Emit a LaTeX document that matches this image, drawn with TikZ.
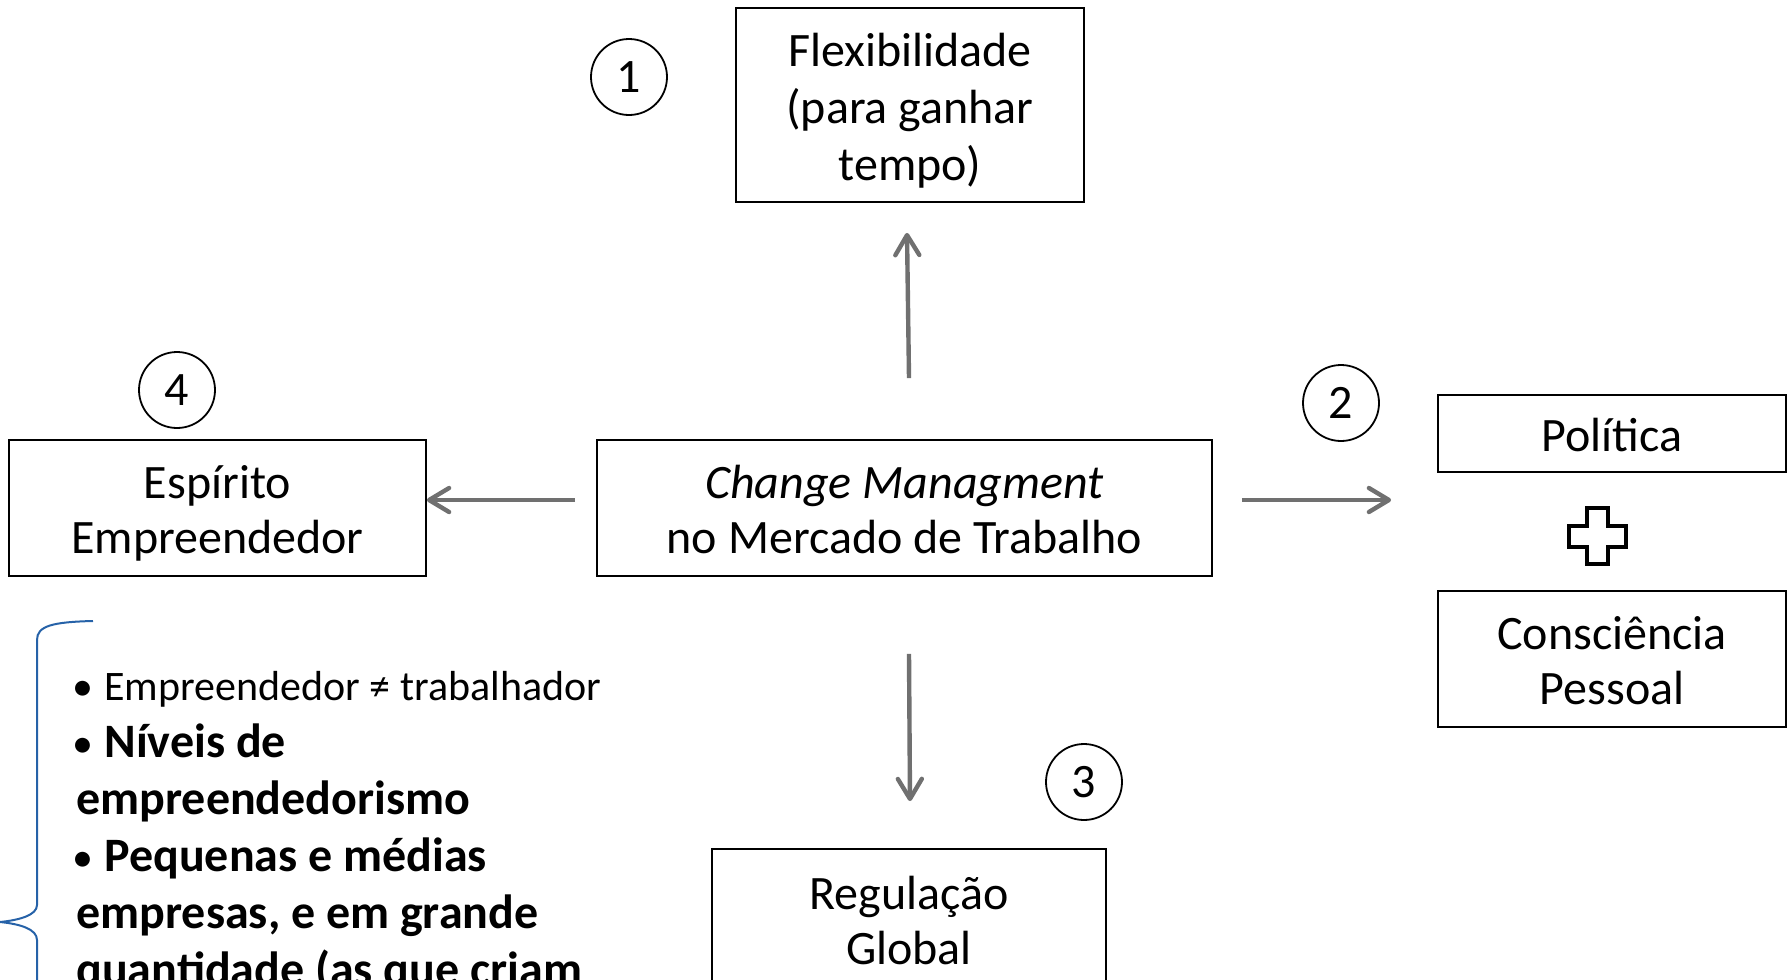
\documentclass[tikz,border=0pt]{standalone}
\usepackage{fontspec}
\setmainfont{Carlito}
\usetikzlibrary{arrows.meta,calc}
\definecolor{arrowgray}{RGB}{112,112,112}
\definecolor{braceblue}{RGB}{38,98,168}
% invisible struts fixing the top of the first line and the bottom of the last
\newcommand\boxtop{\rule{0pt}{24pt}}
\newcommand\boxbot{\rule[-6pt]{0pt}{6pt}}
% list bullet followed by a fixed gap
\newcommand\listdot{\makebox[14pt][l]{\hspace{-2pt}\fontsize{21}{21}\selectfont\mdseries •}}
\begin{document}
\begin{tikzpicture}[x=0.5pt,y=-0.5pt,
  box/.style={draw=black, line width=0.9pt, align=center,
    font=\fontsize{24}{27.5}\selectfont, inner sep=0pt},
  num/.style={draw=black, circle, line width=0.9pt, minimum size=38pt,
    inner sep=0pt, font=\fontsize{24}{28.5}\selectfont},
  link/.style={draw=arrowgray, line width=2.2pt,
    -{Straight Barb[length=10pt,width=12pt,round]}},
  item/.style={anchor=base west, inner sep=0pt},
  bolditem/.style={item, font=\fontsize{24}{28.5}\selectfont\bfseries},
]
\useasboundingbox (0,0) rectangle (1789,980);
\clip (0,0) rectangle (1789,980);

% main boxes
\node[box, font=\fontsize{24}{28.5}\selectfont,
      minimum width=174pt, minimum height=97pt] (flex) at (910,105)
  {\boxtop Flexibilidade\\(para ganhar\\tempo)\boxbot};
\node[box, minimum width=307.5pt, minimum height=68pt] (cm) at (904.5,508)
  {\boxtop\textit{Change Managment}\\no Mercado de Trabalho\boxbot};
\node[box, minimum width=208.5pt, minimum height=68pt] (esp) at (217.5,508)
  {\boxtop Espírito\\Empreendedor\boxbot};
\node[box, minimum width=174pt, minimum height=38.5pt] (pol) at (1612,433.5)
  {\boxtop Política\boxbot};
\node[box, minimum width=174pt, minimum height=68pt] (cons) at (1612,659)
  {\boxtop Consciência\\Pessoal\boxbot};
\node[box, minimum width=197pt, minimum height=70pt] (reg) at (909,919)
  {\boxtop Regulação\\Global\boxbot};

% numbered circles
\node[num] (n1) at (629,77) {1};
\node[num] (n2) at (1341,403) {2};
\node[num] (n3) at (1084,782) {3};
\node[num] (n4) at (177,390) {4};

% arrows out of the central box
\draw[link] ($(cm.north)+(4.5,-61)$) -- ($(flex.south)+(-3,30)$);
\draw[link] ($(cm.west)+(-21,-8)$) -- ($(esp.east)+(0,-8)$);
\draw[link] ($(cm.east)+(29,-8)$) -- ($(pol.west)+(-46,66.5)$);
\draw[link] ($(cm.south)+(4.5,77)$) -- ($(reg.north)+(1,-47)$);

% plus sign between the two right boxes
\draw[line width=2pt, fill=white]
  (1587,508) -- (1608,508) -- (1608,525.5) -- (1626,525.5) -- (1626,546.5)
  -- (1608,546.5) -- (1608,564) -- (1587,564) -- (1587,546.5) -- (1569,546.5)
  -- (1569,525.5) -- (1587,525.5) -- cycle;

% curly brace in front of the list
\draw[braceblue, line width=1pt]
  (93,621) .. controls (52,622) and (37,626) .. (37,640) -- (37,905)
  .. controls (37,915) and (20,920) .. (0,922)
  .. controls (20,924) and (37,929) .. (37,940) -- (37,990);

% bullet list
\node[item, font=\fontsize{21}{26}\selectfont] (l1) at (76,700)
  {\listdot Empreendedor ≠ trabalhador};
\node[bolditem] (l2) at (76,757) {\listdot Níveis de};
\node[bolditem] (l3) at (76,814) {empreendedorismo};
\node[bolditem] (l4) at (76,871) {\listdot Pequenas e médias};
\node[bolditem] (l5) at (76,928) {empresas, e em grande};
\node[bolditem] (l6) at (76,985) {quantidade (as que criam};
\end{tikzpicture}
\end{document}
